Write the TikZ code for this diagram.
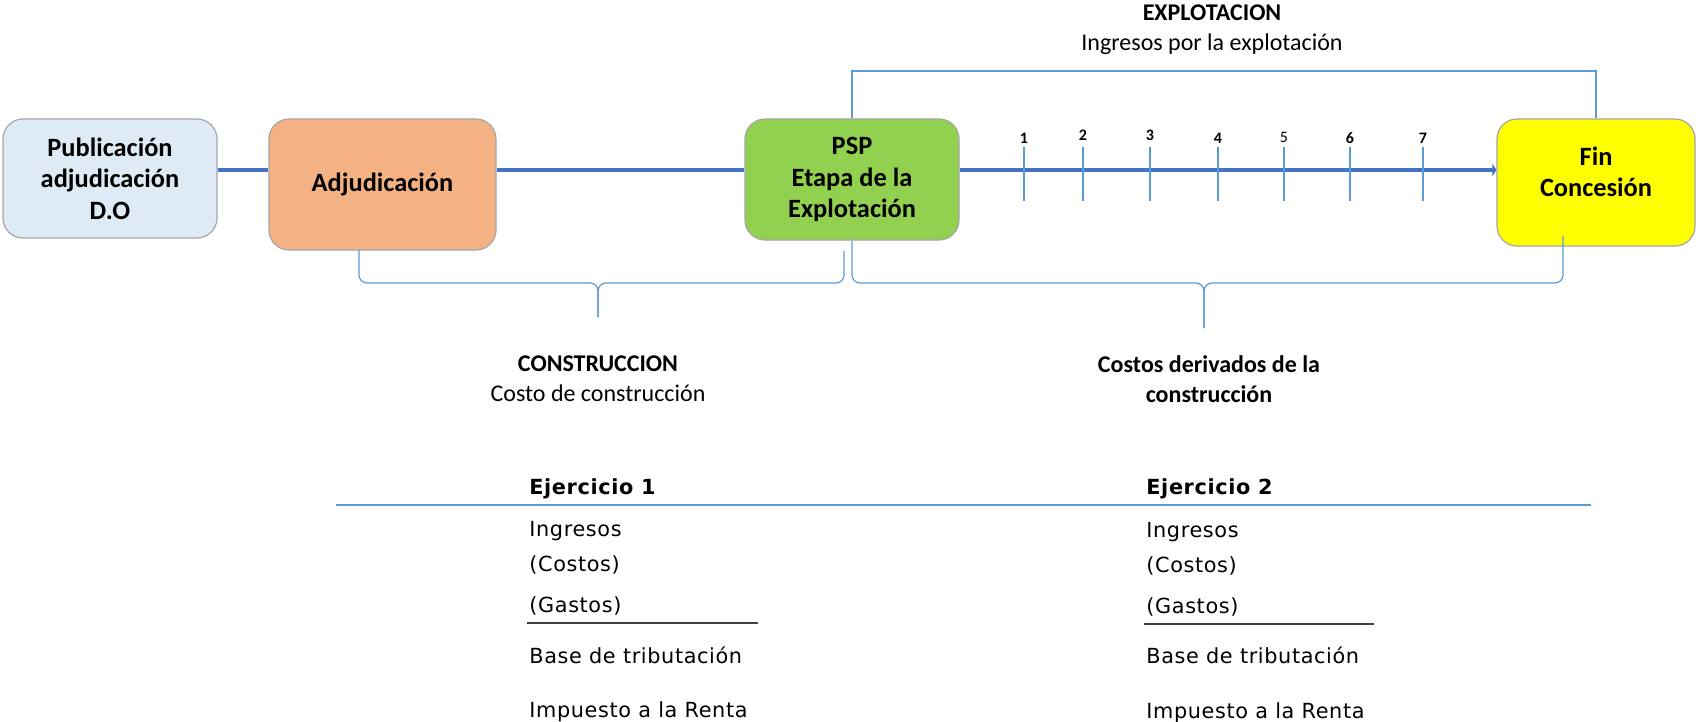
\documentclass[tikz,border=0pt]{standalone}
\usepackage{fontspec}
\setmainfont{Carlito}
\newfontfamily\verdana[LetterSpace=3]{DejaVu Sans}
\usetikzlibrary{arrows.meta}

\definecolor{ejeazul}{HTML}{4472C4}
\definecolor{lineaazul}{HTML}{5B9BD5}
\definecolor{fondopub}{HTML}{DEEBF7}
\definecolor{fondoadj}{HTML}{F4B183}
\definecolor{fondopsp}{HTML}{92D050}
\definecolor{fondofin}{HTML}{FFFF00}
\definecolor{bordegris}{HTML}{A5A5A5}
\definecolor{reglagris}{HTML}{404040}

\tikzset{
  etapa/.style={draw=bordegris, line width=0.6pt, rounded corners=10pt, align=center, inner sep=0pt,
    font=\fontsize{13.2}{15.8}\selectfont\bfseries},
  eje/.style={draw=ejeazul, line width=2.3pt},
  llave/.style={draw=lineaazul, line width=0.6pt, rounded corners=4pt},
  marca/.style={draw=lineaazul, line width=0.6pt},
  num/.style={inner sep=0pt, font=\fontsize{8}{9}\selectfont\bfseries},
  rotulo/.style={align=center, inner sep=0pt, font=\fontsize{12}{15}\selectfont},
  tabla/.style={anchor=base west, inner sep=0pt, font=\verdana\fontsize{10.4}{12}\selectfont},
  tablatit/.style={tabla, font=\verdana\fontsize{10.4}{12}\selectfont\bfseries},
  regla/.style={draw=reglagris, line width=1pt},
}

\begin{document}
\begin{tikzpicture}[x=0.5pt,y=-0.5pt]
\useasboundingbox (0,0) rectangle (1696,722);

\node[etapa, fill=fondopub, minimum width=107pt, minimum height=59.5pt] (pub) at (110,178.5) {Publicación\\adjudicación\\D.O};
\node[etapa, fill=fondoadj, minimum width=113.5pt, minimum height=65.5pt] (adj) at (382.5,184.5) {Adjudicación};
\node[etapa, fill=fondopsp, minimum width=107pt, minimum height=60.5pt] (psp) at (852,179.5) {PSP\\Etapa de la\\Explotación};
\node[etapa, fill=fondofin, minimum width=99pt, minimum height=63.5pt] (fin) at (1596,182.5) {Fin\\Concesión\\[-5pt]\mbox{}};

\coordinate (axis) at (0,170);
\draw[eje] (pub.east |- axis) -- (adj.west |- axis); \draw[eje] (adj.east |- axis) -- (psp.west |- axis);
\draw[eje, -{Triangle[length=2pt,width=6pt]}] (psp.east |- axis) -- (fin.west |- axis);

\node[num] (n1) at (1024,138) {1}; \node[num] (n2) at (1083,135) {2}; \node[num] (n3) at (1150,135) {3};
\node[num] (n4) at (1218,138) {4}; \node[num, font=\fontsize{8}{9}\selectfont] (n5) at (1284,137) {5};
\node[num] (n6) at (1350,138) {6}; \node[num] (n7) at (1423,138) {7};
\draw[marca] (n1 |- 0,147) -- (n1 |- 0,201); \draw[marca] (n2 |- 0,147) -- (n2 |- 0,201);
\draw[marca] (n3 |- 0,147) -- (n3 |- 0,201); \draw[marca] (n4 |- 0,147) -- (n4 |- 0,201);
\draw[marca] (n5 |- 0,147) -- (n5 |- 0,201); \draw[marca] (n6 |- 0,147) -- (n6 |- 0,201);
\draw[marca] (n7 |- 0,147) -- (n7 |- 0,201);

\coordinate (techo) at (1200,71);
\draw[marca] (psp.north) |- (techo) -| (fin.north);
\node[rotulo] (explo) at (1212,30) {\textbf{EXPLOTACION}\\Ingresos por la explotación};

\draw[llave] (359,250) |- (598,283) -- (598,317); \draw[llave] (844,251) |- (598,283) -- (598,317);
\draw[llave] (psp.south) |- (1204,283) -- (1204,328); \draw[llave] (1563,236) |- (1204,283) -- (1204,328);
\node[rotulo] (constr) at (598,379) {\textbf{CONSTRUCCION}\\Costo de construcción};
\node[rotulo, font=\fontsize{12}{15}\selectfont\bfseries] (deriv) at (1209,379) {Costos derivados de la\\construcción};

\draw[marca, line width=0.8pt] (336,505) -- (1591,505);
\node[tablatit] (ej1) at (529,494) {Ejercicio 1};
\node[tabla] (ing1) at (529,536) {Ingresos};
\node[tabla] (cos1) at (529,571) {(Costos)};
\node[tabla] (gas1) at (529,612) {(Gastos)};
\draw[regla] (527,623) -- (758,623);
\node[tabla] (base1) at (529,663) {Base de tributación};
\node[tabla] (imp1) at (529,717) {Impuesto a la Renta};

\node[tablatit] (ej2) at (1146,494) {Ejercicio 2};
\node[tabla] (ing2) at (1146,537) {Ingresos};
\node[tabla] (cos2) at (1146,572) {(Costos)};
\node[tabla] (gas2) at (1146,613) {(Gastos)};
\draw[regla] (1144,624) -- (1374,624);
\node[tabla] (base2) at (1146,663) {Base de tributación};
\node[tabla] (imp2) at (1146,718) {Impuesto a la Renta};
\end{tikzpicture}
\end{document}
